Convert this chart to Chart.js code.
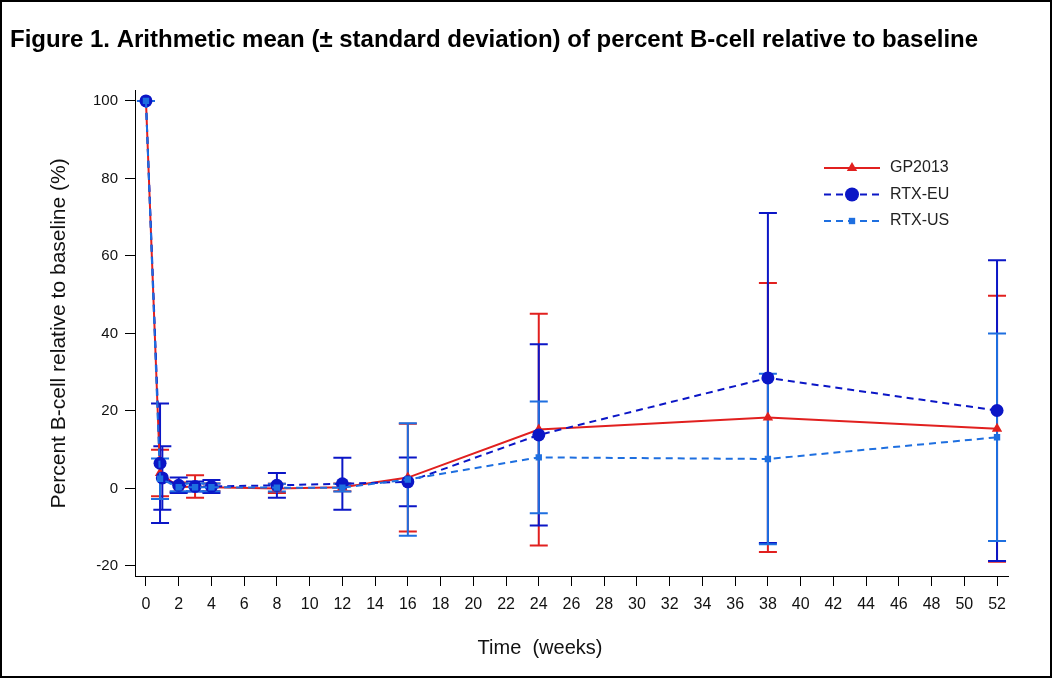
<!DOCTYPE html>
<html>
<head>
<meta charset="utf-8">
<script src="https://cdn.jsdelivr.net/npm/chart.js@4.4.0/dist/chart.umd.min.js"></script>
<style>
  html, body { margin: 0; padding: 0; background: #fff; }
  #wrap { width: 1052px; height: 678px; box-sizing: border-box; border: 2px solid #000; }
  #wrap canvas { display: block; }
</style>
</head>
<body>
<div id="wrap"><canvas id="myChart" width="1048" height="674"></canvas></div>
<script>
// data (weeks, % of baseline)
const weeksGP = [0, 0.86, 2, 3, 4, 8, 12, 16, 24, 38, 52];
const meanGP  = [100, 4.0, 0.3, 0.5, 0.3, 0.0, 0.3, 2.8, 15.2, 18.3, 15.4];
const sdGP    = [0, 6.0, 1.2, 2.9, 1.0, 1.2, 1.0, 13.9, 29.9, 34.7, 34.3];

const weeksEU = [0, 0.86, 1, 2, 3, 4, 8, 12, 16, 24, 38, 52];
const meanEU  = [100, 6.5, 2.7, 0.8, 0.5, 0.5, 0.8, 1.2, 1.7, 13.8, 28.5, 20.1];
const sdEU    = [0, 15.4, 8.2, 2.0, 1.3, 1.7, 3.2, 6.7, 6.3, 23.4, 42.6, 38.8];

const weeksUS = [0, 0.86, 2, 3, 4, 8, 12, 16, 24, 38, 52];
const meanUS  = [100, 2.5, 0.3, 0.3, 0.3, 0.2, 0.2, 2.3, 8.0, 7.6, 13.2];
const sdUS    = [0, 5.2, 1.0, 1.0, 1.0, 1.0, 1.0, 14.5, 14.4, 22.0, 26.8];

const xTicks = [0, 2, 4, 6, 8, 10, 12, 14, 16, 18, 20, 22, 24, 26, 28, 30, 32, 34, 36, 38, 40, 42, 44, 46, 48, 50, 52];
const yTicks = [-20, 0, 20, 40, 60, 80, 100];

const RED = '#e1201f';
const DARK = '#0b16c6';
const LIGHT = '#1e6fe0';

const font = '"Liberation Sans", Arial, sans-serif';

const toPoints = (xs, ys) => xs.map((x, i) => ({ x: x, y: ys[i] }));

// error bars (mean ± sd) drawn through the chart scales
const errorBars = {
  id: 'errorBars',
  beforeDatasetsDraw(chart) {
    const ctx = chart.ctx;
    const xs = chart.scales.x, ys = chart.scales.y;
    const sets = [[weeksGP, meanGP, sdGP, RED], [weeksEU, meanEU, sdEU, DARK], [weeksUS, meanUS, sdUS, LIGHT]];
    ctx.save();
    ctx.lineWidth = 2;
    sets.forEach(function (s) {
      ctx.strokeStyle = s[3];
      s[0].forEach(function (w, i) {
        const px = xs.getPixelForValue(w);
        const top = ys.getPixelForValue(s[1][i] + s[2][i]);
        const bot = ys.getPixelForValue(s[1][i] - s[2][i]);
        ctx.beginPath();
        ctx.moveTo(px, top); ctx.lineTo(px, bot);
        ctx.moveTo(px - 9, top); ctx.lineTo(px + 9, top);
        ctx.moveTo(px - 9, bot); ctx.lineTo(px + 9, bot);
        ctx.stroke();
      });
    });
    ctx.restore();
  }
};

// legend in the upper right of the plot + x axis title (sits left of centre in the figure)
const sideLegend = {
  id: 'sideLegend',
  afterDraw(chart) {
    const ctx = chart.ctx;
    const items = [['GP2013', RED, [], 'triangle', 6], ['RTX-EU', DARK, [7, 5], 'circle', 7], ['RTX-US', LIGHT, [7, 5], 'rect', 4.5]];
    ctx.save();
    items.forEach(function (it, i) {
      const y = 166 + i * 26.5;
      ctx.strokeStyle = it[1];
      ctx.lineWidth = 2;
      ctx.setLineDash(it[2]);
      ctx.beginPath();
      ctx.moveTo(822, y); ctx.lineTo(878, y);
      ctx.stroke();
      ctx.setLineDash([]);
      ctx.fillStyle = it[1];
      Chart.helpers.drawPoint(ctx, { pointStyle: it[3], radius: it[4], borderWidth: 0 }, 850, y);
      ctx.fillStyle = '#222';
      ctx.font = '16px ' + font;
      ctx.textBaseline = 'middle';
      ctx.fillText(it[0], 888, y);
    });
    ctx.fillStyle = '#111';
    ctx.font = '20px ' + font;
    ctx.textAlign = 'center';
    ctx.textBaseline = 'middle';
    ctx.fillText('Time  (weeks)', 538, 646);
    ctx.restore();
  }
};

const ctx = document.getElementById('myChart');

new Chart(ctx, {
  type: 'line',
  data: {
    datasets: [
      {
        label: 'GP2013', data: toPoints(weeksGP, meanGP), order: 3,
        borderColor: RED, backgroundColor: RED, borderWidth: 2,
        pointStyle: 'triangle', pointRadius: 6, pointBorderWidth: 0
      },
      {
        label: 'RTX-EU', data: toPoints(weeksEU, meanEU), order: 2,
        borderColor: DARK, backgroundColor: DARK, borderWidth: 2, borderDash: [7, 5],
        pointStyle: 'circle', pointRadius: 6.5, pointBorderWidth: 0
      },
      {
        label: 'RTX-US', data: toPoints(weeksUS, meanUS), order: 1,
        borderColor: LIGHT, backgroundColor: LIGHT, borderWidth: 2, borderDash: [7, 5],
        pointStyle: 'rect', pointRadius: 4.5, pointBorderWidth: 0
      }
    ]
  },
  options: {
    responsive: false,
    animation: false,
    layout: { padding: { left: 8, right: 42, top: 0, bottom: 0 } },
    plugins: {
      legend: { display: false },
      tooltip: { enabled: false },
      title: {
        display: true,
        align: 'start',
        text: 'Figure 1. Arithmetic mean (\u00b1 standard deviation) of percent B-cell relative to baseline',
        color: '#000',
        font: { family: font, size: 24, weight: 'bold', lineHeight: 1.2 },
        padding: { top: 24, bottom: 36 }
      }
    },
    scales: {
      x: {
        type: 'linear',
        min: -0.67,
        max: 52.67,
        afterBuildTicks: function (s) { s.ticks = xTicks.map(v => ({ value: v })); },
        afterFit: function (s) { s.height = 100; },
        grid: { drawOnChartArea: false, drawTicks: true, tickLength: 10, tickColor: '#000', tickWidth: 1 },
        border: { display: true, color: '#000', width: 1 },
        ticks: { color: '#111', font: { family: font, size: 16 }, padding: 9, maxRotation: 0, autoSkip: false },
        title: { display: false }
      },
      y: {
        type: 'linear',
        min: -22.6,
        max: 102.6,
        afterBuildTicks: function (s) { s.ticks = yTicks.map(v => ({ value: v })); },
        afterFit: function (s) { s.width = 125; },
        grid: { drawOnChartArea: false, drawTicks: true, tickLength: 10, tickColor: '#000', tickWidth: 1 },
        border: { display: true, color: '#000', width: 1 },
        ticks: { color: '#111', font: { family: font, size: 15 }, padding: 7 },
        title: {
          display: true, text: 'Percent B-cell relative to baseline (%)', color: '#111',
          font: { family: font, size: 21, lineHeight: 1.2 }, padding: { top: 37, bottom: 0 }
        }
      }
    }
  },
  plugins: [errorBars, sideLegend]
});
</script>
</body>
</html>
